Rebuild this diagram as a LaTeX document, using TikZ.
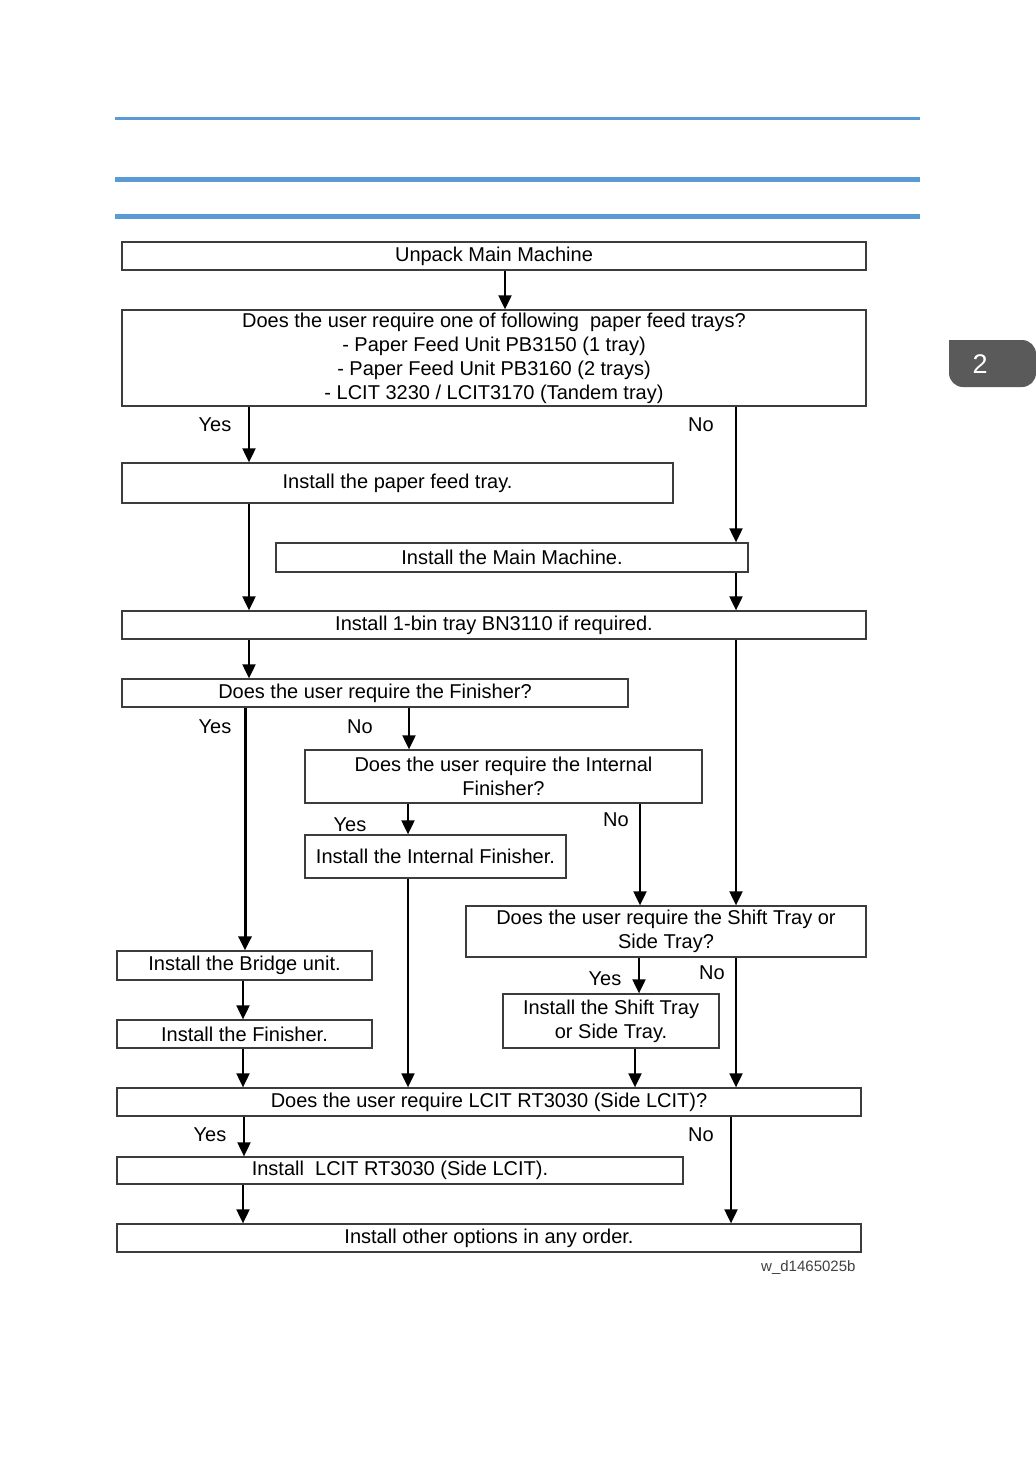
\documentclass[tikz,border=0pt]{standalone}
\usepackage{fontspec}
\setmainfont{Liberation Sans}
\usetikzlibrary{arrows.meta, positioning}
\definecolor{rulblue}{RGB}{91, 155, 213}
\definecolor{tabgray}{RGB}{90, 90, 90}
\definecolor{boxline}{RGB}{60, 60, 60}

\tikzset{
  box/.style={draw=boxline, line width=1.3pt, inner sep=0pt, align=center,
    font=\fontsize{20}{24}\selectfont},
  lbl/.style={inner sep=0pt, font=\fontsize{20}{24}\selectfont},
  arr/.style={-{Triangle[width=13pt, length=14pt]}, line width=2pt}
}

\begin{document}
\begin{tikzpicture}[x=1pt, y=-1pt]
  \useasboundingbox (0,0) rectangle (1036,1470);

  % Header rules
  \draw[rulblue, line width=3pt] (115,118) -- (920,118);
  \draw[rulblue, line width=5pt] (115,179) -- (920,179);
  \draw[rulblue, line width=5pt] (115,216.5) -- (920,216.5);

  % Chapter tab
  \fill[tabgray, rounded corners=14pt] (949,340) -- (949,387) -- (1036,387) -- (1036,340) [sharp corners] -- cycle;
  \node[text=white, font=\fontsize{27}{27}\selectfont] (tab) at (980,364) {2};

  % Columns of the connectors
  \coordinate (cU) at (505,0);
  \coordinate (cY) at (249,0);
  \coordinate (cN) at (736,0);
  \coordinate (cF) at (245,0);
  \coordinate (cB) at (243,0);
  \coordinate (cI) at (408,0);
  \coordinate (cIN) at (640,0);
  \coordinate (cS) at (637,0);
  \coordinate (cL) at (731,0);

  % Boxes
  \node[box, minimum width=744, minimum height=28] (unpack) at (494,256) {Unpack Main Machine};
  \node[box, minimum width=744, minimum height=96] (feedq) at (494,358) {Does the user require one of following~ paper feed trays?\\
    - Paper Feed Unit PB3150 (1 tray)\\
    - Paper Feed Unit PB3160 (2 trays)\\
    - LCIT 3230 / LCIT3170 (Tandem tray)};
  \node[box, minimum width=551, minimum height=40] (feed) at (397.5,483) {Install the paper feed tray.};
  \node[box, minimum width=472, minimum height=29] (mainm) at (512,557.5) {Install the Main Machine.};
  \node[box, minimum width=744, minimum height=28] (bin) at (494,625) {Install 1-bin tray BN3110 if required.};
  \node[box, minimum width=506, minimum height=28] (finq) at (375,693) {Does the user require the Finisher?};
  \node[box, minimum width=397, minimum height=53] (intq) at (503.5,776.5) {Does the user require the Internal\\ Finisher?};
  \node[box, minimum width=261, minimum height=43] (intf) at (435.5,856.5) {Install the Internal Finisher.};
  \node[box, minimum width=400, minimum height=51] (shiftq) at (666,931.5) {Does the user require the Shift Tray or\\ Side Tray?};
  \node[box, minimum width=255, minimum height=29] (bridge) at (244.5,965.5) {Install the Bridge unit.};
  \node[box, minimum width=216, minimum height=54] (shift) at (611,1021) {Install the Shift Tray\\ or Side Tray.};
  \node[box, minimum width=255, minimum height=28] (fin) at (244.5,1034) {Install the Finisher.};
  \node[box, minimum width=744, minimum height=28] (lcitq) at (489,1102) {Does the user require LCIT RT3030 (Side LCIT)?};
  \node[box, minimum width=566, minimum height=27] (lcit) at (400,1170.5) {Install~ LCIT RT3030 (Side LCIT).};
  \node[box, minimum width=744, minimum height=28] (other) at (489,1238) {Install other options in any order.};

  % Yes / No labels
  \node[lbl] (y1) at (215,425) {Yes};
  \node[lbl] (n1) at (701,425) {No};
  \node[lbl] (y2) at (215,727) {Yes};
  \node[lbl] (n2) at (360,727) {No};
  \node[lbl] (y3) at (350,825) {Yes};
  \node[lbl] (n3) at (616,820) {No};
  \node[lbl] (y4) at (605,979) {Yes};
  \node[lbl] (n4) at (712,973) {No};
  \node[lbl] (y5) at (210,1135) {Yes};
  \node[lbl] (n5) at (701,1135) {No};

  % Connectors
  \draw[arr] (unpack.south -| cU) -- (feedq.north -| cU);
  \draw[arr] (feedq.south -| cY) -- (feed.north -| cY);
  \draw[arr] (feedq.south -| cN) -- (mainm.north -| cN);
  \draw[arr] (feed.south -| cY) -- (bin.north -| cY);
  \draw[arr] (mainm.south -| cN) -- (bin.north -| cN);
  \draw[arr] (bin.south -| cY) -- (finq.north -| cY);
  \draw[arr] (bin.south -| cN) -- (shiftq.north -| cN);
  \draw[arr, line width=3pt] (finq.south -| cF) -- (bridge.north -| cF);
  \draw[arr] (finq.south -| 409,0) -- (intq.north -| 409,0);
  \draw[arr] (intq.south -| cI) -- (intf.north -| cI);
  \draw[arr] (intq.south -| cIN) -- (shiftq.north -| cIN);
  \draw[arr] (bridge.south -| cB) -- (fin.north -| cB);
  \draw[arr] (shiftq.south -| 639,0) -- (shift.north -| 639,0);
  \draw[arr] (fin.south -| cB) -- (lcitq.north -| cB);
  \draw[arr] (intf.south -| cI) -- (lcitq.north -| cI);
  \draw[arr] (shift.south -| 635,0) -- (lcitq.north -| 635,0);
  \draw[arr] (shiftq.south -| cN) -- (lcitq.north -| cN);
  \draw[arr] (lcitq.south -| 244,0) -- (lcit.north -| 244,0);
  \draw[arr] (lcitq.south -| cL) -- (other.north -| cL);
  \draw[arr] (lcit.south -| cB) -- (other.north -| cB);

  % Figure code
  \node[anchor=east, text=black!75, font=\fontsize{15}{15}\selectfont] (code) at (859,1268) {w\_d1465025b};
\end{tikzpicture}
\end{document}
